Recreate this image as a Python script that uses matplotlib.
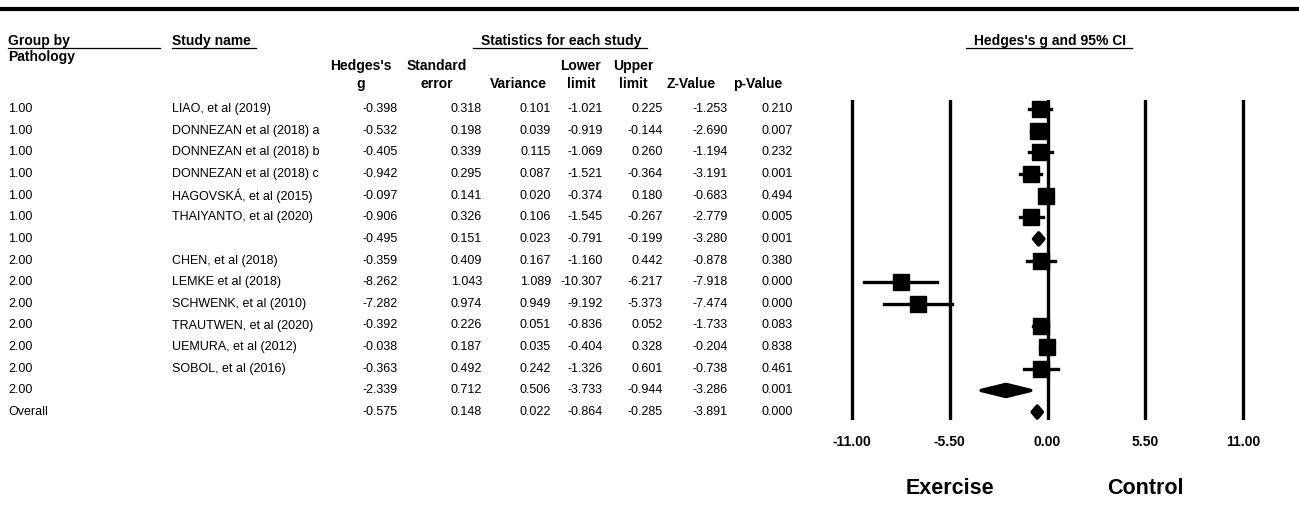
import numpy as np
import matplotlib
matplotlib.use('Agg')
import matplotlib.pyplot as plt

# table data
group = ['1.00'] * 7 + ['2.00'] * 7 + ['Overall']
study = ['LIAO, et al (2019)', 'DONNEZAN et al (2018) a', 'DONNEZAN et al (2018) b',
         'DONNEZAN et al (2018) c', 'HAGOVSKÁ, et al (2015)', 'THAIYANTO, et al (2020)', '',
         'CHEN, et al (2018)', 'LEMKE et al (2018)', 'SCHWENK, et al (2010)',
         'TRAUTWEN, et al (2020)', 'UEMURA, et al (2012)', 'SOBOL, et al (2016)', '', '']
hedges_g = [-0.398, -0.532, -0.405, -0.942, -0.097, -0.906, -0.495,
            -0.359, -8.262, -7.282, -0.392, -0.038, -0.363, -2.339, -0.575]
std_err = [0.318, 0.198, 0.339, 0.295, 0.141, 0.326, 0.151,
           0.409, 1.043, 0.974, 0.226, 0.187, 0.492, 0.712, 0.148]
variance = [0.101, 0.039, 0.115, 0.087, 0.020, 0.106, 0.023,
            0.167, 1.089, 0.949, 0.051, 0.035, 0.242, 0.506, 0.022]
lower = [-1.021, -0.919, -1.069, -1.521, -0.374, -1.545, -0.791,
         -1.160, -10.307, -9.192, -0.836, -0.404, -1.326, -3.733, -0.864]
upper = [0.225, -0.144, 0.260, -0.364, 0.180, -0.267, -0.199,
         0.442, -6.217, -5.373, 0.052, 0.328, 0.601, -0.944, -0.285]
z_value = [-1.253, -2.690, -1.194, -3.191, -0.683, -2.779, -3.280,
           -0.878, -7.918, -7.474, -1.733, -0.204, -0.738, -3.286, -3.891]
p_value = [0.210, 0.007, 0.232, 0.001, 0.494, 0.005, 0.001,
           0.380, 0.000, 0.000, 0.083, 0.838, 0.461, 0.001, 0.000]
is_summary = [False] * 6 + [True] + [False] * 6 + [True, True]
ticks = [-11, -5.5, 0, 5.5, 11]

W, H = 1299, 507
HEAD = ['Liberation Sans', 'DejaVu Sans']
BODY = ['Liberation Sans', 'DejaVu Sans']

fig = plt.figure(figsize=(W / 100, H / 100), dpi=100)
bg = fig.add_axes([0, 0, 1, 1])
bg.set_xlim(0, W); bg.set_ylim(H, 0); bg.axis('off')

# thick top rule
bg.plot([0, W], [9, 9], color='black', lw=3, solid_capstyle='butt')

# headers
def head(x, y, s, ha='left', size=10):
    bg.text(x, y, s, ha=ha, va='center', fontsize=size, fontweight='bold', family=HEAD)

def uline(x0, x1, y=48):
    bg.plot([x0, x1], [y, y], color='black', lw=0.9)

head(8, 41, 'Group by'); uline(8, 160)
head(8, 57, 'Pathology')
head(172, 41, 'Study name'); uline(172, 256)
head(561, 41, 'Statistics for each study', ha='center'); uline(473, 647)
head(1050, 41, "Hedges's g and 95% CI", ha='center'); uline(966, 1132)

col_heads = [(361, "Hedges's\ng"), (437, 'Standard\nerror'), (518, '\nVariance'),
             (581, 'Lower\nlimit'), (633, 'Upper\nlimit'), (691, '\nZ-Value'), (758, '\np-Value')]
for x, s in col_heads:
    bg.text(x, 75, s, ha='center', va='center', fontsize=10, fontweight='bold',
            family=HEAD, linespacing=1.35)

# table body
y0, step = 109, 21.65
cols = [(398, hedges_g), (482, std_err), (551, variance), (603, lower),
        (663, upper), (728, z_value), (793, p_value)]
for i in range(len(group)):
    y = y0 + i * step
    bg.text(8, y, group[i], va='center', fontsize=9, family=BODY)
    bg.text(172, y, study[i], va='center', fontsize=9, family=BODY)
    for x, vals in cols:
        bg.text(x, y, f'{vals[i]:.3f}', ha='right', va='center', fontsize=9, family=BODY)

# forest plot axes, mapped to pixel layout
zero_px, ppu = 1047.5, 195.5 / 11
L, R, T, B = 830, 1275, 100, 420
ax = fig.add_axes([L / W, 1 - B / H, (R - L) / W, (B - T) / H])
ax.patch.set_alpha(0)
ax.set_xlim((L - zero_px) / ppu, (R - zero_px) / ppu)
ax.set_ylim((B - y0) / step, (T - y0) / step)
for s in ax.spines.values():
    s.set_visible(False)
ax.set_yticks([])
ax.set_xticks(ticks)
ax.set_xticklabels([f'{t:.2f}' for t in ticks], fontsize=10, fontweight='bold', family=HEAD)
ax.tick_params(axis='x', length=0, pad=11)

for t in ticks:
    ax.axvline(t, color='black', lw=2.4)

rows = np.arange(len(hedges_g))
for i in rows:
    if is_summary[i]:
        hh = 0.28
        ax.fill([lower[i], hedges_g[i], upper[i], hedges_g[i]],
                [i, i - hh, i, i + hh], color='black', lw=2.5, ec='black',
                joinstyle='round', zorder=4, clip_on=False)
    else:
        ax.plot([lower[i], upper[i]], [i, i], color='black', lw=2.4, zorder=3)
        ax.plot(hedges_g[i], i, marker='s', ms=11, color='black', zorder=4)

trans = ax.get_xaxis_transform()
ax.text(-5.5, -0.215, 'Exercise', transform=trans, ha='center', va='center',
        fontsize=15.5, fontweight='bold', family=HEAD)
ax.text(5.5, -0.215, 'Control', transform=trans, ha='center', va='center',
        fontsize=15.5, fontweight='bold', family=HEAD)

plt.savefig('out.png', dpi=100)
